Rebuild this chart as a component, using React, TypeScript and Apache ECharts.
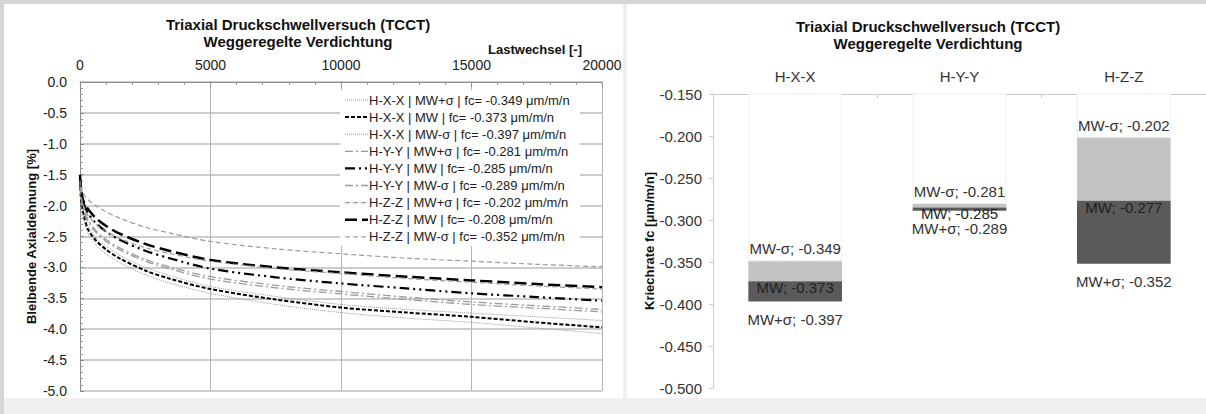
import React, { useEffect, useRef } from "react";
import * as echarts from "echarts";

const FONT = '"Liberation Sans", Arial, sans-serif';

// ---------- Left chart data ----------
const cycles = [0, 50, 150, 300, 600, 1000, 1500, 2500, 3500, 5000, 7500, 10000, 12500, 15000, 17500, 20000];

const hxxPlus = [-1.65, -1.92, -2.12, -2.32, -2.52, -2.66, -2.8, -3.0, -3.14, -3.31, -3.47, -3.6, -3.68, -3.74, -3.8, -3.86];
const hxxMw = [-1.6, -1.95, -2.17, -2.38, -2.56, -2.71, -2.85, -3.05, -3.19, -3.35, -3.52, -3.65, -3.73, -3.8, -3.89, -3.97];
const hxxMinus = [-1.7, -2.0, -2.23, -2.44, -2.63, -2.78, -2.92, -3.12, -3.26, -3.42, -3.6, -3.73, -3.82, -3.89, -3.98, -4.07];
const hyyPlus = [-1.6, -1.85, -2.05, -2.22, -2.4, -2.55, -2.68, -2.87, -3.0, -3.15, -3.29, -3.39, -3.48, -3.56, -3.62, -3.68];
const hyyMw = [-1.55, -1.8, -1.97, -2.12, -2.28, -2.42, -2.55, -2.73, -2.86, -3.02, -3.16, -3.26, -3.34, -3.42, -3.48, -3.54];
const hyyMinus = [-1.62, -1.88, -2.08, -2.25, -2.43, -2.58, -2.71, -2.9, -3.03, -3.19, -3.33, -3.43, -3.52, -3.6, -3.66, -3.72];
const hzzPlus = [-1.55, -1.7, -1.82, -1.9, -2.0, -2.1, -2.2, -2.35, -2.45, -2.58, -2.7, -2.78, -2.85, -2.9, -2.95, -2.99];
const hzzMw = [-1.5, -1.78, -1.95, -2.05, -2.2, -2.33, -2.45, -2.62, -2.74, -2.88, -3.0, -3.08, -3.15, -3.21, -3.27, -3.32];
const hzzMinus = [-1.6, -1.85, -2.02, -2.15, -2.3, -2.42, -2.53, -2.68, -2.78, -2.9, -3.02, -3.1, -3.18, -3.24, -3.3, -3.35];

const seriesNames = [
  "H-X-X | MW+σ | fc= -0.349 μm/m/n",
  "H-X-X | MW | fc= -0.373 μm/m/n",
  "H-X-X | MW-σ | fc= -0.397 μm/m/n",
  "H-Y-Y | MW+σ | fc= -0.281 μm/m/n",
  "H-Y-Y | MW | fc= -0.285 μm/m/n",
  "H-Y-Y | MW-σ | fc= -0.289 μm/m/n",
  "H-Z-Z | MW+σ | fc= -0.202 μm/m/n",
  "H-Z-Z | MW | fc= -0.208 μm/m/n",
  "H-Z-Z | MW-σ | fc= -0.352 μm/m/n",
];
const seriesValues = [hxxPlus, hxxMw, hxxMinus, hyyPlus, hyyMw, hyyMinus, hzzPlus, hzzMw, hzzMinus];

const xTicks = [0, 5000, 10000, 15000, 20000];

// ---------- Right chart data ----------
const categories = ["H-X-X", "H-Y-Y", "H-Z-Z"];
const fcMwMinus = [-0.349, -0.281, -0.202];
const fcMw = [-0.373, -0.285, -0.277];
const fcMwPlus = [-0.397, -0.289, -0.352];

const GRAY = "#9a9a9a";
const lineStyles: any[] = [
  { color: GRAY, width: 1, type: [1, 1] },
  { color: "#000", width: 2, type: [4, 2] },
  { color: GRAY, width: 1, type: [1, 1] },
  { color: GRAY, width: 1.3, type: [8, 3, 2, 3] },
  { color: "#000", width: 2.2, type: [10, 4, 2, 4, 2, 4] },
  { color: GRAY, width: 1.3, type: [8, 3, 2, 3] },
  { color: GRAY, width: 1.2, type: [5, 3] },
  { color: "#000", width: 2.5, type: [12, 5] },
  { color: GRAY, width: 1.2, type: [5, 3] },
];

export default function App() {
  const ref = useRef<HTMLDivElement>(null);

  useEffect(() => {
    if (!ref.current) return;
    const chart = echarts.init(ref.current, null, { renderer: "svg" });

    const lineSeries = seriesNames.map((name, i) => ({
      name,
      type: "line",
      xAxisIndex: 0,
      yAxisIndex: 0,
      symbol: "none",
      showSymbol: false,
      smooth: 0.3,
      lineStyle: lineStyles[i],
      itemStyle: { color: lineStyles[i].color },
      data: cycles.map((c, k) => [c, seriesValues[i][k]]),
      z: 3,
    }));

    const lightSeg = fcMw.map((v, i) => +(v - fcMwMinus[i]).toFixed(4));
    const darkSeg = fcMwPlus.map((v, i) => +(v - fcMw[i]).toFixed(4));

    // manual legend (box + line samples + texts)
    const legendTop = 100;
    const legendStep = 17.1;
    const legendGraphics: any[] = [
      { type: "rect", shape: { x: 340, y: 90, width: 240, height: 156 }, style: { fill: "#fff" }, z: 50 },
    ];
    seriesNames.forEach((name, i) => {
      const y = legendTop + i * legendStep;
      const ls = lineStyles[i];
      legendGraphics.push({
        type: "line",
        shape: { x1: 345, y1: y, x2: 368, y2: y },
        style: { stroke: ls.color, lineWidth: ls.width, lineDash: ls.type },
        z: 51,
      });
      legendGraphics.push({
        type: "text",
        x: 369,
        y,
        style: { text: name, align: "left", verticalAlign: "middle", fontFamily: FONT, fontSize: 13, fill: "#222" },
        z: 51,
      });
    });

    const titleStyle = (text: string) => ({
      text,
      align: "center",
      verticalAlign: "middle",
      fontFamily: FONT,
      fontSize: 15,
      fontWeight: "bold",
      fill: "#111",
    });

    const option: any = {
      animation: false,
      textStyle: { fontFamily: FONT },
      grid: [
        { left: 80, top: 82, width: 522, height: 309 },
        { left: 713, top: 94, width: 510, height: 294 },
      ],
      xAxis: [
        {
          type: "value",
          gridIndex: 0,
          position: "top",
          min: 0,
          max: 20000,
          interval: 5000,
          axisLine: { show: true, lineStyle: { color: "#8a8a8a" } },
          axisTick: { show: true, inside: true, length: 5, lineStyle: { color: "#8a8a8a" } },
          minorTick: { show: true, splitNumber: 5, length: 3, lineStyle: { color: "#9a9a9a" } },
          axisLabel: {
            fontSize: 14,
            color: "#222",
            margin: 10,
            formatter: (v: number) => (xTicks.includes(v) ? String(v) : ""),
          },
          splitLine: { show: true, lineStyle: { color: "#b5b5b5", width: 1 } },
        },
        {
          type: "category",
          gridIndex: 1,
          position: "top",
          data: categories,
          axisLine: { show: true, lineStyle: { color: "#c8c8c8" } },
          axisTick: { show: true, inside: true, length: 4, lineStyle: { color: "#c8c8c8" } },
          axisLabel: { fontSize: 15, color: "#333", margin: 10 },
          splitLine: { show: false },
        },
      ],
      yAxis: [
        {
          type: "value",
          gridIndex: 0,
          min: -5,
          max: 0,
          interval: 0.5,
          name: "Bleibende Axialdehnung [%]",
          nameLocation: "middle",
          nameGap: 42,
          nameTextStyle: { fontSize: 13, fontWeight: "bold", color: "#111" },
          axisLine: { show: true, lineStyle: { color: "#8a8a8a" } },
          axisTick: { show: true, inside: true, length: 4, lineStyle: { color: "#8a8a8a" } },
          minorTick: { show: true, splitNumber: 5, length: 3, lineStyle: { color: "#9a9a9a" } },
          axisLabel: { fontSize: 14, color: "#222", margin: 13, formatter: (v: number) => v.toFixed(1) },
          splitLine: { show: true, lineStyle: { color: "#cdcdcd", width: 2 } },
        },
        {
          type: "value",
          gridIndex: 1,
          min: -0.5,
          max: -0.15,
          interval: 0.05,
          name: "Kriechrate fc [μm/m/n]",
          nameLocation: "middle",
          nameGap: 56,
          nameTextStyle: { fontSize: 13, fontWeight: "bold", color: "#111" },
          axisLine: { show: true, lineStyle: { color: "#cfcfcf" } },
          axisTick: { show: true, length: 4, lineStyle: { color: "#cfcfcf" } },
          axisLabel: { fontSize: 15, color: "#333", margin: 11, formatter: (v: number) => v.toFixed(3) },
          splitLine: { show: false },
        },
      ],
      graphic: [
        { type: "text", x: 298, y: 24, style: titleStyle("Triaxial Druckschwellversuch (TCCT)") },
        { type: "text", x: 298, y: 41, style: titleStyle("Weggeregelte Verdichtung") },
        { type: "text", x: 535, y: 49, style: { text: "Lastwechsel [-]", align: "center", verticalAlign: "middle", fontFamily: FONT, fontSize: 13, fontWeight: "bold", fill: "#111" } },
        { type: "text", x: 928, y: 26, style: titleStyle("Triaxial Druckschwellversuch (TCCT)") },
        { type: "text", x: 928, y: 43, style: titleStyle("Weggeregelte Verdichtung") },
        ...legendGraphics,
      ],
      series: [
        ...lineSeries,
        {
          name: "base",
          type: "bar",
          xAxisIndex: 1,
          yAxisIndex: 1,
          stack: "fc",
          barWidth: "57%",
          data: fcMwMinus,
          itemStyle: { color: "#ffffff", borderColor: "#efefef", borderWidth: 1 },
          label: {
            show: true,
            position: "insideBottom",
            distance: 5,
            fontSize: 15,
            color: "#333",
            formatter: (p: any) => "MW-σ; " + fcMwMinus[p.dataIndex].toFixed(3),
          },
          z: 2,
        },
        {
          name: "light",
          type: "bar",
          xAxisIndex: 1,
          yAxisIndex: 1,
          stack: "fc",
          barWidth: "57%",
          data: lightSeg,
          itemStyle: { color: "#c3c3c3" },
          z: 2,
        },
        {
          name: "dark",
          type: "bar",
          xAxisIndex: 1,
          yAxisIndex: 1,
          stack: "fc",
          barWidth: "57%",
          data: darkSeg,
          itemStyle: { color: "#5a5a5a" },
          label: {
            show: true,
            position: "insideTop",
            distance: -1,
            fontSize: 15,
            color: "#222",
            formatter: (p: any) => "MW; " + fcMw[p.dataIndex].toFixed(3),
          },
          z: 3,
        },
        {
          name: "mwplus",
          type: "scatter",
          xAxisIndex: 1,
          yAxisIndex: 1,
          symbolSize: 1,
          itemStyle: { color: "transparent", opacity: 1 },
          data: fcMwPlus,
          label: {
            show: true,
            position: "bottom",
            distance: 10,
            fontSize: 15,
            color: "#333",
            opacity: 1,
            formatter: (p: any) => "MW+σ; " + fcMwPlus[p.dataIndex].toFixed(3),
          },
          z: 4,
        },
      ],
    };

    chart.setOption(option);
    return () => chart.dispose();
  }, []);

  return (
    <div style={{ position: "absolute", left: 0, top: 0, width: 1206, height: 414, background: "#efefef", overflow: "hidden" }}>
      <div style={{ position: "absolute", left: 0, top: 0, width: 1206, height: 4, background: "#d6d6d6" }} />
      <div style={{ position: "absolute", left: 0, top: 0, width: 4, height: 414, background: "#d6d6d6" }} />
      <div style={{ position: "absolute", left: 4, top: 4, width: 619, height: 394, background: "#fff" }} />
      <div style={{ position: "absolute", left: 627, top: 4, width: 579, height: 394, background: "#fff" }} />
      <div ref={ref} style={{ position: "absolute", left: 0, top: 0, width: 1206, height: 414 }} />
    </div>
  );
}
